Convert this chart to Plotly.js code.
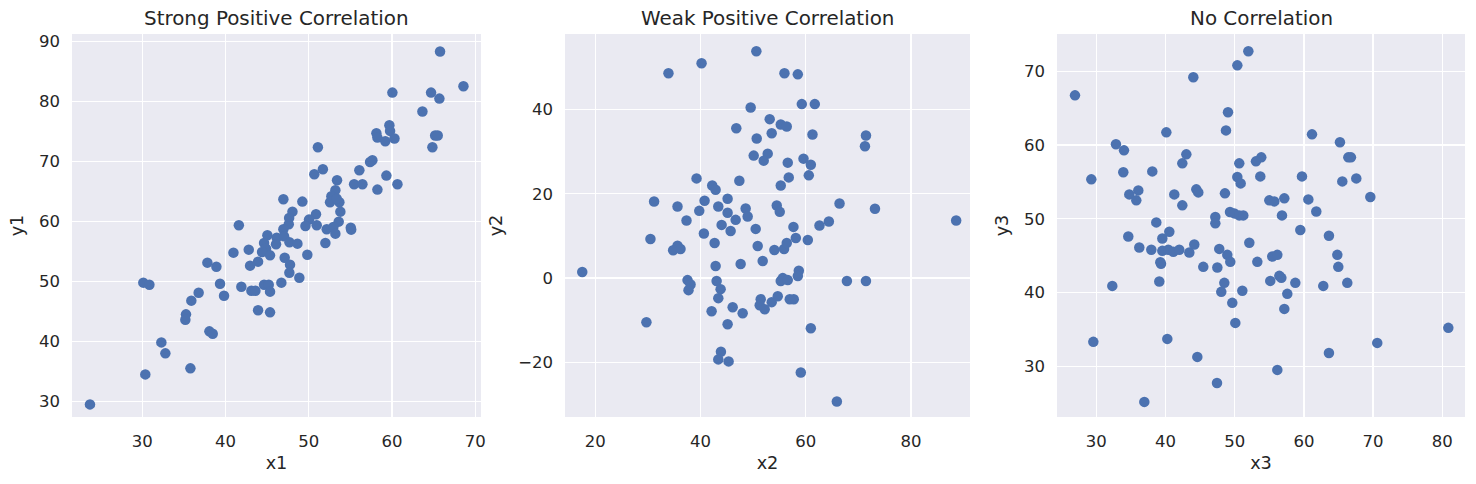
<!DOCTYPE html>
<html>
<head>
<meta charset="utf-8">
<script src="https://cdn.plot.ly/plotly-3.0.1.min.js"></script>
<style>html,body{margin:0;padding:0;background:#fff;}#chart{width:1476px;height:484px;}</style>
</head>
<body>
<div id="chart"></div>
<script>
// Panel 1: strong positive correlation
const x1 = [65.78,68.59,60.05,64.7,65.7,63.66,59.69,59.77,58.13,58.25,59.2,60.3,65.19,65.5,64.86,51.1,57.37,57.65,56.08,51.7,50.67,53.4,59.33,60.66,55.45,56.45,58.25,53.2,52.72,52.56,53.68,53.36,46.95,49.23,53.8,48.04,47.64,50.87,50.03,53.6,47.6,41.6,46.95,49.6,50.96,52.16,52.96,55.05,
53.2,55.1,45.03,46.15,47.03,44.63,46.07,47.68,48.64,52.0,44.87,44.39,45.35,42.79,40.95,47.11,47.75,47.67,48.87,49.83,43.91,42.95,37.82,38.9,30.12,30.85,39.34,41.9,43.11,43.59,44.63,45.19,45.35,46.71,39.82,36.77,35.89,35.25,35.17,38.06,38.46,43.91,45.35,32.29,32.77,35.78,30.36,23.71];
const y1 = [88.28,82.5,81.44,81.44,80.44,78.28,76.0,75.06,74.67,73.94,73.33,73.78,74.28,74.28,72.33,72.33,69.89,70.17,68.5,68.67,67.83,66.83,67.61,66.17,66.17,66.17,65.28,65.17,64.17,63.17,63.17,63.78,63.67,63.28,61.61,61.61,60.56,61.17,60.28,59.94,59.5,59.33,58.67,59.22,59.33,58.67,59.06,58.94,
57.94,58.61,57.67,57.28,57.5,56.39,56.17,56.5,56.28,56.39,55.44,54.89,54.33,55.28,54.78,53.94,52.78,51.44,50.61,54.44,53.28,52.61,53.11,52.44,49.78,49.44,49.61,49.11,48.44,48.44,49.44,49.44,48.28,49.78,47.61,48.11,46.78,44.5,43.61,41.67,41.28,45.17,44.83,39.83,38.0,35.5,34.5,29.5];

// Panel 2: weak positive correlation
const x2 = [50.6,40.19,33.9,55.94,58.48,49.52,59.24,61.71,53.14,55.24,56.38,46.79,53.52,50.67,61.27,71.43,71.24,50.1,52.76,52.0,56.57,59.56,60.95,39.24,47.37,56.76,60.57,42.22,42.86,55.24,31.17,35.62,40.76,39.75,43.37,45.14,45.14,48.57,48.95,46.67,54.48,55.05,66.41,73.14,37.33,88.57,64.38,
44.0,45.71,50.48,57.65,62.6,40.63,30.48,42.67,35.62,34.79,36.19,50.86,54.03,55.87,56.38,58.1,60.38,17.52,42.86,47.62,51.81,58.67,58.48,55.62,55.24,56.57,67.81,71.43,37.52,38.1,37.71,43.05,43.81,43.37,42.1,46.1,48.0,45.14,51.43,51.24,52.19,53.52,54.67,56.95,57.71,29.71,60.95,43.87,43.37,45.33,59.05,65.9];
const y2 = [53.81,50.95,48.57,48.57,48.33,40.48,41.27,41.27,37.7,36.43,35.95,35.56,34.37,33.1,34.05,33.81,31.27,29.05,29.52,27.86,27.38,28.33,26.9,23.65,23.1,23.89,24.37,21.98,20.95,21.98,18.17,16.98,18.33,15.95,16.98,18.81,15.48,16.51,14.6,13.81,17.22,15.71,17.7,16.43,13.65,13.65,13.41,
12.62,11.19,11.67,12.14,12.46,10.56,9.29,8.33,7.7,6.59,6.9,7.62,6.67,6.9,8.33,9.52,9.05,1.43,2.86,3.33,4.05,1.75,0.48,0.0,-0.71,-0.48,-0.71,-0.71,-0.48,-1.51,-2.86,-0.71,-2.62,-4.76,-7.86,-6.9,-8.33,-10.95,-5.0,-6.43,-7.38,-5.71,-4.29,-5.0,-5.0,-10.48,-11.9,-17.46,-19.29,-19.76,-22.38,-29.29];

// Panel 3: no correlation
const x3 = [51.97,50.38,44.02,26.92,49.03,48.74,40.12,61.17,65.21,32.84,34.0,43.01,53.84,53.07,66.42,66.8,42.43,50.66,33.9,38.09,29.28,50.38,50.86,53.7,59.72,65.55,67.57,36.07,34.77,35.78,41.27,44.45,44.74,48.59,69.6,55.0,55.72,57.17,60.64,42.43,61.79,49.32,49.94,50.66,51.24,56.83,47.2,47.2,38.67,59.48,40.55,
34.62,39.54,36.21,37.95,39.54,40.4,41.13,41.99,43.44,44.16,39.25,39.35,39.1,32.31,45.46,47.49,47.77,48.93,49.36,52.11,48.5,48.06,51.1,49.65,50.09,53.27,55.43,56.16,56.45,56.74,55.14,58.76,57.6,57.17,63.62,64.83,64.97,62.8,66.27,29.57,40.26,44.6,56.16,63.62,70.6,80.87,47.44,36.94];
const y3 = [72.71,70.81,69.19,66.74,64.44,61.99,61.72,61.45,60.37,60.1,59.28,58.74,58.33,57.79,58.33,58.33,57.52,57.52,56.3,56.43,55.35,55.66,54.8,55.75,55.75,55.07,55.48,53.85,53.31,52.5,53.31,53.99,53.58,53.45,52.95,52.5,52.36,52.77,52.63,51.82,51.0,50.91,50.73,50.46,50.46,50.46,50.24,49.38,49.51,48.47,48.25,
47.6,47.33,46.11,45.79,45.65,45.79,45.52,45.79,45.43,46.51,44.12,43.89,41.49,40.9,43.48,43.39,45.92,45.11,44.16,46.74,41.31,40.09,40.23,38.6,35.88,44.16,44.88,45.11,42.26,41.99,41.58,41.31,39.82,37.78,47.69,45.11,43.48,40.9,41.31,33.31,33.71,31.27,29.51,31.81,33.17,35.21,27.74,25.17];

const titles = ['Strong Positive Correlation', 'Weak Positive Correlation', 'No Correlation'];
const xLabels = ['x1', 'x2', 'x3'];
const yLabels = ['y1', 'y2', 'y3'];

const FONT = 'DejaVu Sans, sans-serif';
const TXT = '#262626';
const markerStyle = {color: '#4C72B0', size: 10.5, line: {width: 0}};

const traces = [
  {x: x1, y: y1, xaxis: 'x', yaxis: 'y', type: 'scatter', mode: 'markers', marker: markerStyle, hoverinfo: 'x+y'},
  {x: x2, y: y2, xaxis: 'x2', yaxis: 'y2', type: 'scatter', mode: 'markers', marker: markerStyle, hoverinfo: 'x+y'},
  {x: x3, y: y3, xaxis: 'x3', yaxis: 'y3', type: 'scatter', mode: 'markers', marker: markerStyle, hoverinfo: 'x+y'}
];

const W = 1476;
const doms = [[72/W, 481/W], [565/W, 970/W], [1057/W, 1465/W]];
const xr = [[21.55, 70.7], [14.24, 91.2], [24.32, 83.28]];
const yr = [[27.4, 91.2], [-32.95, 57.9], [23.12, 75.06]];
const xt = [[30,40,50,60,70], [20,40,60,80], [30,40,50,60,70,80]];
const yt = [[30,40,50,60,70,80,90], [-20,0,20,40], [30,40,50,60,70]];

function axis(extra) {
  return Object.assign({
    showgrid: true, gridcolor: '#FFFFFF', gridwidth: 1.3,
    zeroline: false, showline: false, ticks: '', ticklen: 0,
    tickfont: {family: FONT, size: 16.5, color: TXT},
    tickmode: 'array', fixedrange: true, automargin: false
  }, extra);
}

const layout = {
  width: 1476, height: 484,
  margin: {l: 0, r: 0, t: 34, b: 67, pad: 0},
  paper_bgcolor: '#FFFFFF',
  plot_bgcolor: '#EAEAF2',
  showlegend: false,
  font: {family: FONT, color: TXT},
  annotations: []
};

for (let i = 0; i < 3; i++) {
  const s = i === 0 ? '' : String(i + 1);
  layout['xaxis' + s] = axis({
    domain: doms[i], range: xr[i], tickvals: xt[i], anchor: 'y' + s,
    ticklabelstandoff: 12,
    title: {text: xLabels[i], font: {family: FONT, size: 17.7, color: TXT}, standoff: 7}
  });
  layout['yaxis' + s] = axis({
    domain: [0, 1], range: yr[i], tickvals: yt[i], anchor: 'x' + s,
    ticklabelstandoff: 11,
    title: {text: yLabels[i], font: {family: FONT, size: 17.7, color: TXT}, standoff: 10}
  });
  layout.annotations.push({
    text: titles[i], xref: 'paper', yref: 'paper',
    x: (doms[i][0] + doms[i][1]) / 2, y: 1, xanchor: 'center', yanchor: 'bottom',
    yshift: 2, showarrow: false,
    font: {family: FONT, size: 19.9, color: TXT}
  });
}

Plotly.newPlot('chart', traces, layout, {displayModeBar: false, staticPlot: true});
</script>
</body>
</html>
